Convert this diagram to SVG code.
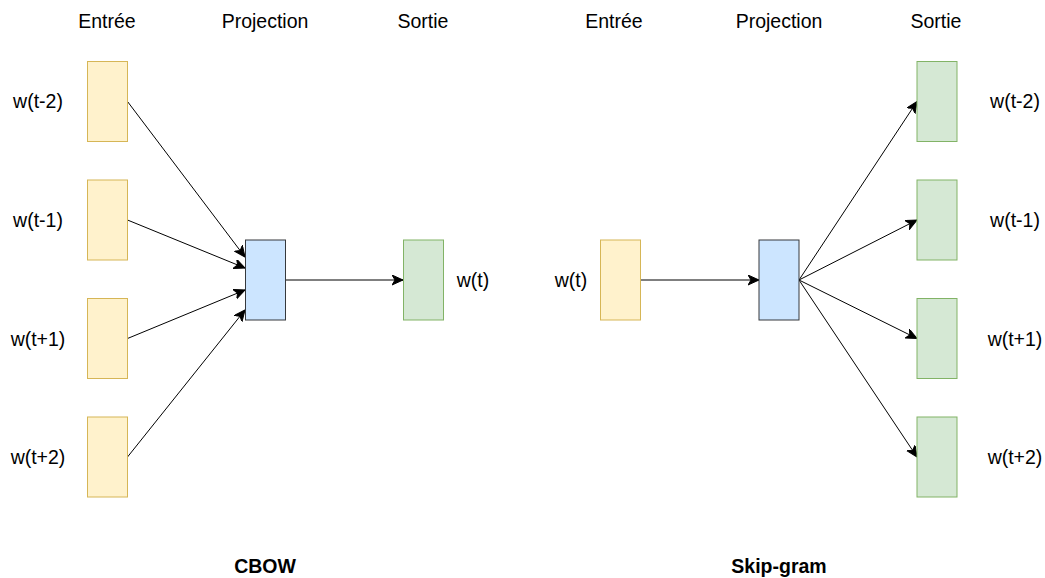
<svg xmlns="http://www.w3.org/2000/svg" width="1045" height="578" viewBox="0 0 1045 578">
<style>
text{font-family:"Liberation Sans",Arial,sans-serif;font-size:19.5px;fill:#000;text-anchor:middle;dominant-baseline:central}
.b{font-weight:bold}
.in{fill:#fff2cc;stroke:#d6b656}
.pr{fill:#cce5ff;stroke:#36393d}
.out{fill:#d5e8d4;stroke:#82b366}
.c{stroke:#000;stroke-width:1;fill:none;marker-end:url(#ah)}
</style>
<defs>
<marker id="ah" markerUnits="userSpaceOnUse" markerWidth="13" markerHeight="11" refX="11" refY="5" orient="auto" viewBox="0 0 13 11">
<path d="M0,0 L11,5 L0,10 L3,5 Z" fill="#000" stroke="#000" stroke-width="1"/>
</marker>
</defs>
<g id="headers">
<text x="107" y="21">Entrée</text>
<text x="265" y="21">Projection</text>
<text x="423" y="21">Sortie</text>
<text x="614" y="21">Entrée</text>
<text x="779" y="21">Projection</text>
<text x="936" y="21">Sortie</text>
<text class="b" x="265" y="566">CBOW</text>
<text class="b" x="779" y="566">Skip-gram</text>
</g>
<g id="connectors">
<line class="c" x1="127.5" y1="101.5" x2="245" y2="257"/>
<line class="c" x1="127.5" y1="220" x2="245" y2="268"/>
<line class="c" x1="127.5" y1="338.5" x2="245" y2="290"/>
<line class="c" x1="127.5" y1="457" x2="245" y2="310"/>
<line class="c" x1="285.5" y1="280" x2="403" y2="280"/>
<line class="c" x1="640.5" y1="280" x2="759" y2="280"/>
<line class="c" x1="799" y1="280" x2="917" y2="101.5"/>
<line class="c" x1="799" y1="280" x2="917" y2="220"/>
<line class="c" x1="799" y1="280" x2="917" y2="338.5"/>
<line class="c" x1="799" y1="280" x2="917" y2="457"/>
</g>
<g id="cbow-in-1"><rect class="in" x="87.5" y="61.5" width="40" height="80"/><text x="38" y="101">w(t-2)</text></g>
<g id="cbow-in-2"><rect class="in" x="87.5" y="180" width="40" height="80"/><text x="38" y="220">w(t-1)</text></g>
<g id="cbow-in-3"><rect class="in" x="87.5" y="298.5" width="40" height="80"/><text x="38" y="338.5">w(t+1)</text></g>
<g id="cbow-in-4"><rect class="in" x="87.5" y="417" width="40" height="80"/><text x="38" y="457">w(t+2)</text></g>
<g id="cbow-proj"><rect class="pr" x="245.5" y="240" width="40" height="80"/></g>
<g id="cbow-out"><rect class="out" x="403.5" y="240" width="40" height="80"/><text x="473" y="280">w(t)</text></g>
<g id="sg-in"><rect class="in" x="600.5" y="240" width="40" height="80"/><text x="571" y="280">w(t)</text></g>
<g id="sg-proj"><rect class="pr" x="759" y="240" width="40" height="80"/></g>
<g id="sg-out-1"><rect class="out" x="917" y="61.5" width="40" height="80"/><text x="1015" y="101">w(t-2)</text></g>
<g id="sg-out-2"><rect class="out" x="917" y="180" width="40" height="80"/><text x="1015" y="220">w(t-1)</text></g>
<g id="sg-out-3"><rect class="out" x="917" y="298.5" width="40" height="80"/><text x="1015" y="338.5">w(t+1)</text></g>
<g id="sg-out-4"><rect class="out" x="917" y="417" width="40" height="80"/><text x="1015" y="457">w(t+2)</text></g>
</svg>
